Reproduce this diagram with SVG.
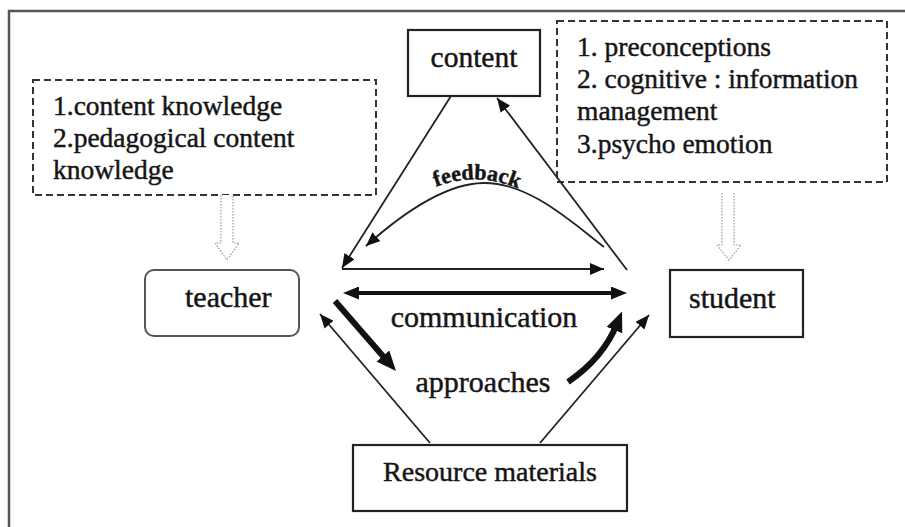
<svg xmlns="http://www.w3.org/2000/svg" width="905" height="527" viewBox="0 0 905 527">
<style>
text{font-family:"Liberation Serif","DejaVu Serif","Noto Serif",serif;fill:#151515;stroke:#151515;stroke-width:0.45}
.box{fill:#fff;stroke:#222;stroke-width:2.2}
.dash{fill:#fff;stroke:#333;stroke-width:2;stroke-dasharray:7 4}
.thin{fill:none;stroke:#222;stroke-width:1.8}
.thick{fill:none;stroke:#111;stroke-width:6}
.mid{fill:none;stroke:#111;stroke-width:4}
.block{fill:#fff;stroke:#999;stroke-width:1.2;stroke-dasharray:1.5 1.5}
.frame{fill:none;stroke:#555;stroke-width:2.5}
</style>
<defs>
<marker id="ah" markerUnits="userSpaceOnUse" markerWidth="14" markerHeight="12" refX="14" refY="6" orient="auto"><path d="M0,0 L14,6 L0,12 z" fill="#111"/></marker>
<marker id="ahm" markerUnits="userSpaceOnUse" markerWidth="16" markerHeight="13" refX="4" refY="6.5" orient="auto-start-reverse"><path d="M0,0 L16,6.5 L0,13 z" fill="#111"/></marker>
<marker id="ahb" markerUnits="userSpaceOnUse" markerWidth="20" markerHeight="17" refX="6" refY="8.5" orient="auto"><path d="M0,0 L20,8.5 L0,17 z" fill="#111"/></marker>
<path id="fbp" d="M428,190 Q476,168 526,192"/>
</defs>
<rect width="905" height="527" fill="#fff"/>
<path class="frame" d="M9,527 L9,11 L905,11"/>

<g id="teacher-knowledge">
<rect class="dash" x="33" y="80" width="343" height="115"/>
<text x="53" y="115" font-size="27.5">1.content knowledge</text>
<text x="53" y="147" font-size="27.5">2.pedagogical content</text>
<text x="53" y="179" font-size="27.5">knowledge</text>
<path class="block" d="M221,195 L221,243 L215,243 L227,260 L239,243 L233,243 L233,195"/>
</g>

<g id="student-traits">
<rect class="dash" x="557" y="21" width="330" height="161"/>
<text x="577" y="56" font-size="27.5">1. preconceptions</text>
<text x="577" y="88" font-size="27.5">2. cognitive : information</text>
<text x="577" y="120" font-size="27.5">management</text>
<text x="577" y="153" font-size="27.5">3.psycho emotion</text>
<path class="block" d="M722,193 L722,245 L717,245 L729,260 L741,245 L734,245 L734,193"/>
</g>

<g id="content">
<rect class="box" x="408" y="30" width="132" height="66"/>
<text x="474" y="67" font-size="29.5" text-anchor="middle">content</text>
</g>

<g id="teacher">
<rect x="145" y="270" width="154" height="66" rx="9" fill="#fff" stroke="#555" stroke-width="2"/>
<text x="185" y="307" font-size="30">teacher</text>
</g>

<g id="student">
<rect class="box" x="670" y="270" width="133" height="67"/>
<text x="689" y="308" font-size="30">student</text>
</g>

<g id="resource">
<rect class="box" x="353" y="445" width="274" height="66"/>
<text x="490" y="481" font-size="28" text-anchor="middle">Resource materials</text>
</g>

<g id="connectors">
<path class="thin" d="M451,96 L342,268" marker-end="url(#ah)"/>
<path class="thin" d="M627,270 L497,98" marker-end="url(#ah)"/>
<path class="thin" d="M342,269 L604,269" marker-end="url(#ah)"/>
<path class="thin" d="M604,247 C575,225 530,182 483,183 C440,184 395,220 366,246" marker-end="url(#ah)"/>
<path class="mid" d="M355,293 L615,293" marker-start="url(#ahm)" marker-end="url(#ahm)"/>
<path class="thick" d="M335,301 L386.8,360.5" marker-end="url(#ahb)"/>
<path class="thick" d="M568,382 Q603,358 616.7,324.5" marker-end="url(#ahb)"/>
<path class="thin" d="M430,443 L320,314" marker-end="url(#ah)"/>
<path class="thin" d="M540,443 L649,315" marker-end="url(#ah)"/>
</g>

<g id="labels">
<text font-size="22" font-weight="bold"><textPath href="#fbp" startOffset="50%" text-anchor="middle">feedback</textPath></text>
<text x="484" y="327" font-size="30" text-anchor="middle">communication</text>
<text x="483" y="392" font-size="30" text-anchor="middle">approaches</text>
</g>
</svg>
